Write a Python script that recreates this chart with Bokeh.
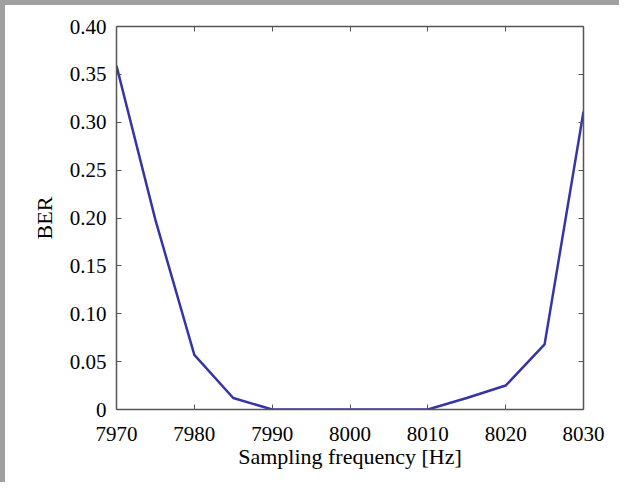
from bokeh.plotting import figure
from bokeh.models import LinearAxis, FixedTicker, Range1d
from bokeh.embed import file_html
from bokeh.resources import INLINE

freq = [7970, 7975, 7980, 7985, 7990, 7995, 8000, 8005, 8010, 8015, 8020, 8025, 8030]
ber = [0.359, 0.198, 0.057, 0.012, 0.0, 0.0, 0.0, 0.0, 0.0, 0.012, 0.025, 0.068, 0.311]

x_ticks = [7970, 7980, 7990, 8000, 8010, 8020, 8030]
y_ticks = [0, 0.05, 0.10, 0.15, 0.20, 0.25, 0.30, 0.35, 0.40]
y_labels = ["0", "0.05", "0.10", "0.15", "0.20", "0.25", "0.30", "0.35", "0.40"]

FONT = "Liberation Serif"
AX = "#555555"

p = figure(width=619, height=482, output_backend="svg", toolbar_location=None,
           x_range=Range1d(7970, 8030), y_range=Range1d(0, 0.40),
           min_border_left=111, min_border_right=41, min_border_top=21, min_border_bottom=78)
p.styles = {"border-left": "5px solid #a0a0a0", "border-top": "5px solid #a0a0a0"}
p.grid.visible = False
p.outline_line_color = None

p.line(freq, ber, line_color="#3535a8", line_width=2.5)

def style(ax, labels=True):
    ax.axis_line_color = AX
    ax.axis_line_width = 1.5
    ax.major_tick_line_color = AX
    ax.major_tick_in = 5
    ax.major_tick_out = 0
    ax.minor_tick_line_color = None
    ax.major_label_text_font = FONT
    ax.major_label_text_font_size = "21px"
    ax.major_label_text_color = "black" if labels else None
    ax.axis_label_text_font = FONT
    ax.axis_label_text_font_size = "22px"
    ax.axis_label_text_font_style = "normal"
    ax.axis_label_text_color = "black"

xa = p.xaxis[0]
xa.ticker = FixedTicker(ticks=x_ticks)
xa.axis_label = "Sampling frequency [Hz]"
xa.major_label_standoff = 17
xa.axis_label_standoff = 0
style(xa)

ya = p.yaxis[0]
ya.ticker = FixedTicker(ticks=y_ticks)
ya.major_label_overrides = {t: l for t, l in zip(y_ticks, y_labels)}
ya.axis_label = "BER"
ya.major_label_standoff = 10
ya.axis_label_standoff = 10
style(ya)

top = LinearAxis(ticker=FixedTicker(ticks=x_ticks))
style(top, labels=False)
p.add_layout(top, "above")
right = LinearAxis(ticker=FixedTicker(ticks=y_ticks))
style(right, labels=False)
p.add_layout(right, "right")

open("out.html", "w").write(file_html(p, INLINE))
